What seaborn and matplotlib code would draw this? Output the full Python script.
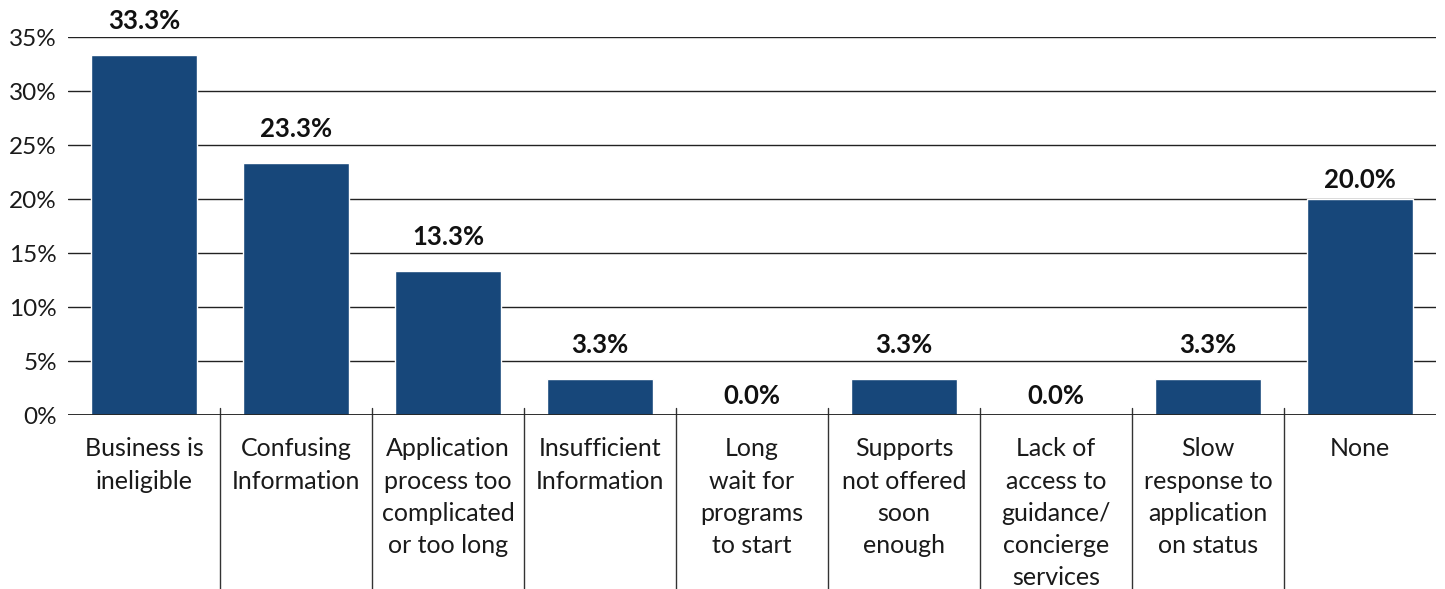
import matplotlib
matplotlib.use("Agg")
import matplotlib.pyplot as plt
import seaborn as sns
import pandas as pd

categories = [
    "Business is\nineligible",
    "Confusing\nInformation",
    "Application\nprocess too\ncomplicated\nor too long",
    "Insufficient\nInformation",
    "Long\nwait for\nprograms\nto start",
    "Supports\nnot offered\nsoon\nenough",
    "Lack of\naccess to\nguidance/\nconcierge\nservices",
    "Slow\nresponse to\napplication\non status",
    "None",
]
values = [33.3, 23.3, 13.3, 3.3, 0.0, 3.3, 0.0, 3.3, 20.0]
yticks = [0, 5, 10, 15, 20, 25, 30, 35]
ytick_labels = ["0%", "5%", "10%", "15%", "20%", "25%", "30%", "35%"]
# vertical offset (points) of each value label above its bar, as in the original
label_offsets = [25, 25, 25, 25, 13.5, 25, 13.5, 25, 13.5]

sns.set_style("white")
plt.rcParams["font.family"] = ["Lato", "DejaVu Sans"]

W, H = 1445, 589
fig = plt.figure(figsize=(W / 100, H / 100), dpi=100)
ax = fig.add_axes([68 / W, (H - 415) / H, (1436 - 68) / W, (415 - 37) / H])

df = pd.DataFrame({"cat": categories, "val": values})
sns.barplot(data=df, x="cat", y="val", color="#17477a", saturation=1, width=0.7, ax=ax)

ax.set_ylim(0, 35)
ax.set_xlim(-0.5, len(categories) - 0.5)
ax.set_yticks(yticks)
ax.set_yticklabels(ytick_labels, fontsize=17.5, color="#1a1a1a")
ax.set_xlabel("")
ax.set_ylabel("")
ax.tick_params(axis="both", length=0)
ax.tick_params(axis="y", pad=8)
ax.tick_params(axis="x", pad=16)
for lbl in ax.get_xticklabels():
    lbl.set_fontsize(18)
    lbl.set_linespacing(1.49)
    lbl.set_color("#1a1a1a")
    lbl.set_verticalalignment("top")

for s in ax.spines.values():
    s.set_visible(False)
ax.set_axisbelow(True)
ax.grid(axis="y", color="#222222", linewidth=1.0)
ax.grid(axis="x", visible=False)
ax.axhline(0, color="#222222", linewidth=1.3, zorder=3)

trans = ax.get_xaxis_transform()
for i in range(len(categories) - 1):
    ax.plot([i + 0.5, i + 0.5], [0.0185, -0.47], transform=trans,
            color="#333333", linewidth=1.0, clip_on=False)

for i, v in enumerate(values):
    ax.annotate(f"{v:.1f}%", (i, v), xytext=(0, label_offsets[i]), textcoords="offset points",
                ha="center", va="center", fontsize=18.5, fontweight="bold",
                color="#111111", annotation_clip=False)

fig.savefig("out.png", dpi=100)
